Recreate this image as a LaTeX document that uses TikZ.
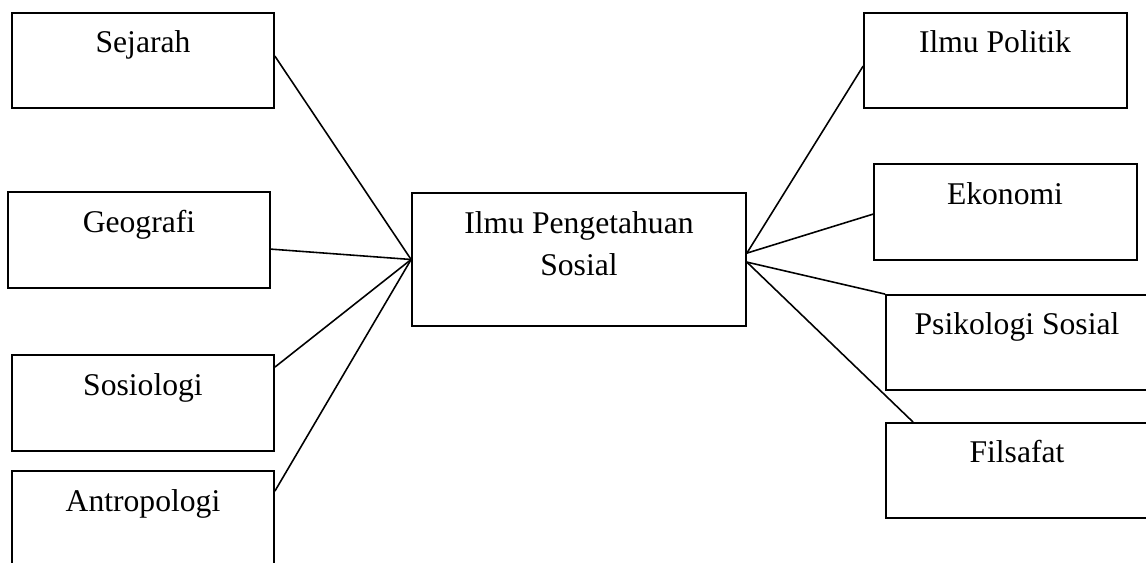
\documentclass[tikz,border=0pt]{standalone}
\usepackage{fontspec}
\setmainfont{Liberation Serif}
\usetikzlibrary{fit,calc}
\begin{document}
\begin{tikzpicture}[x=0.02cm,y=-0.02cm,
  box/.style={draw,line width=1pt,rectangle,inner sep=0pt},
  lbl/.style={anchor=base,inner sep=0pt,font=\fontsize{18}{24.4}\selectfont,align=center},
  link/.style={line width=0.9pt}]
\clip[use as bounding box] (0,0) rectangle (1146,563);
\fill[white] (0,0) rectangle (1146,563);

% central box (two-line label: base anchor sits on the last line)
\node[box,fit={(412,193)(746,326)}] (ips) {};
\node[lbl] (ipsT) at (579,276) {Ilmu Pengetahuan\\Sosial};

% left-hand boxes
\node[box,fit={(12,13)(274,108)}] (sej) {};
\node[lbl] (sejT) at (143,53) {Sejarah};
\node[box,fit={(8,192)(270,288)}] (geo) {};
\node[lbl] (geoT) at (139,233) {Geografi};
\node[box,fit={(12,355)(274,451)}] (sos) {};
\node[lbl] (sosT) at (143,396) {Sosiologi};
\node[box,fit={(12,471)(274,600)}] (ant) {};
\node[lbl] (antT) at (143,512) {Antropologi};

% right-hand boxes
\node[box,fit={(864,13)(1127,108)}] (pol) {};
\node[lbl] (polT) at (995,53) {Ilmu Politik};
\node[box,fit={(874,164)(1137,260)}] (eko) {};
\node[lbl] (ekoT) at (1005,205) {Ekonomi};
\node[box,fit={(886,295)(1160,390)}] (psi) {};
\node[lbl] (psiT) at (1017,335) {Psikologi Sosial};
\node[box,fit={(886,423)(1160,518)}] (fil) {};
\node[lbl] (filT) at (1017,463) {Filsafat};

% meeting points on the central box
\coordinate (L) at (ips.west);
\coordinate (R1) at ($(ips.north east)+(0,61)$);
\coordinate (R2) at ($(ips.north east)+(0,70)$);

% connectors
\draw[link] ($(sej.north east)+(0,44)$) -- (L);
\draw[link] ($(geo.north east)+(0,58)$) -- (L);
\draw[link] ($(sos.north east)+(0,13)$) -- (L);
\draw[link] ($(ant.north east)+(0,21)$) -- (L);
\draw[link] (R1) -- ($(pol.north west)+(0,54)$);
\draw[link] (R1) -- ($(eko.north west)+(0,51)$);
\draw[link] (R2) -- (psi.north west);
\draw[link] (R2) -- ($(fil.north west)+(28,0)$);
\end{tikzpicture}
\end{document}
